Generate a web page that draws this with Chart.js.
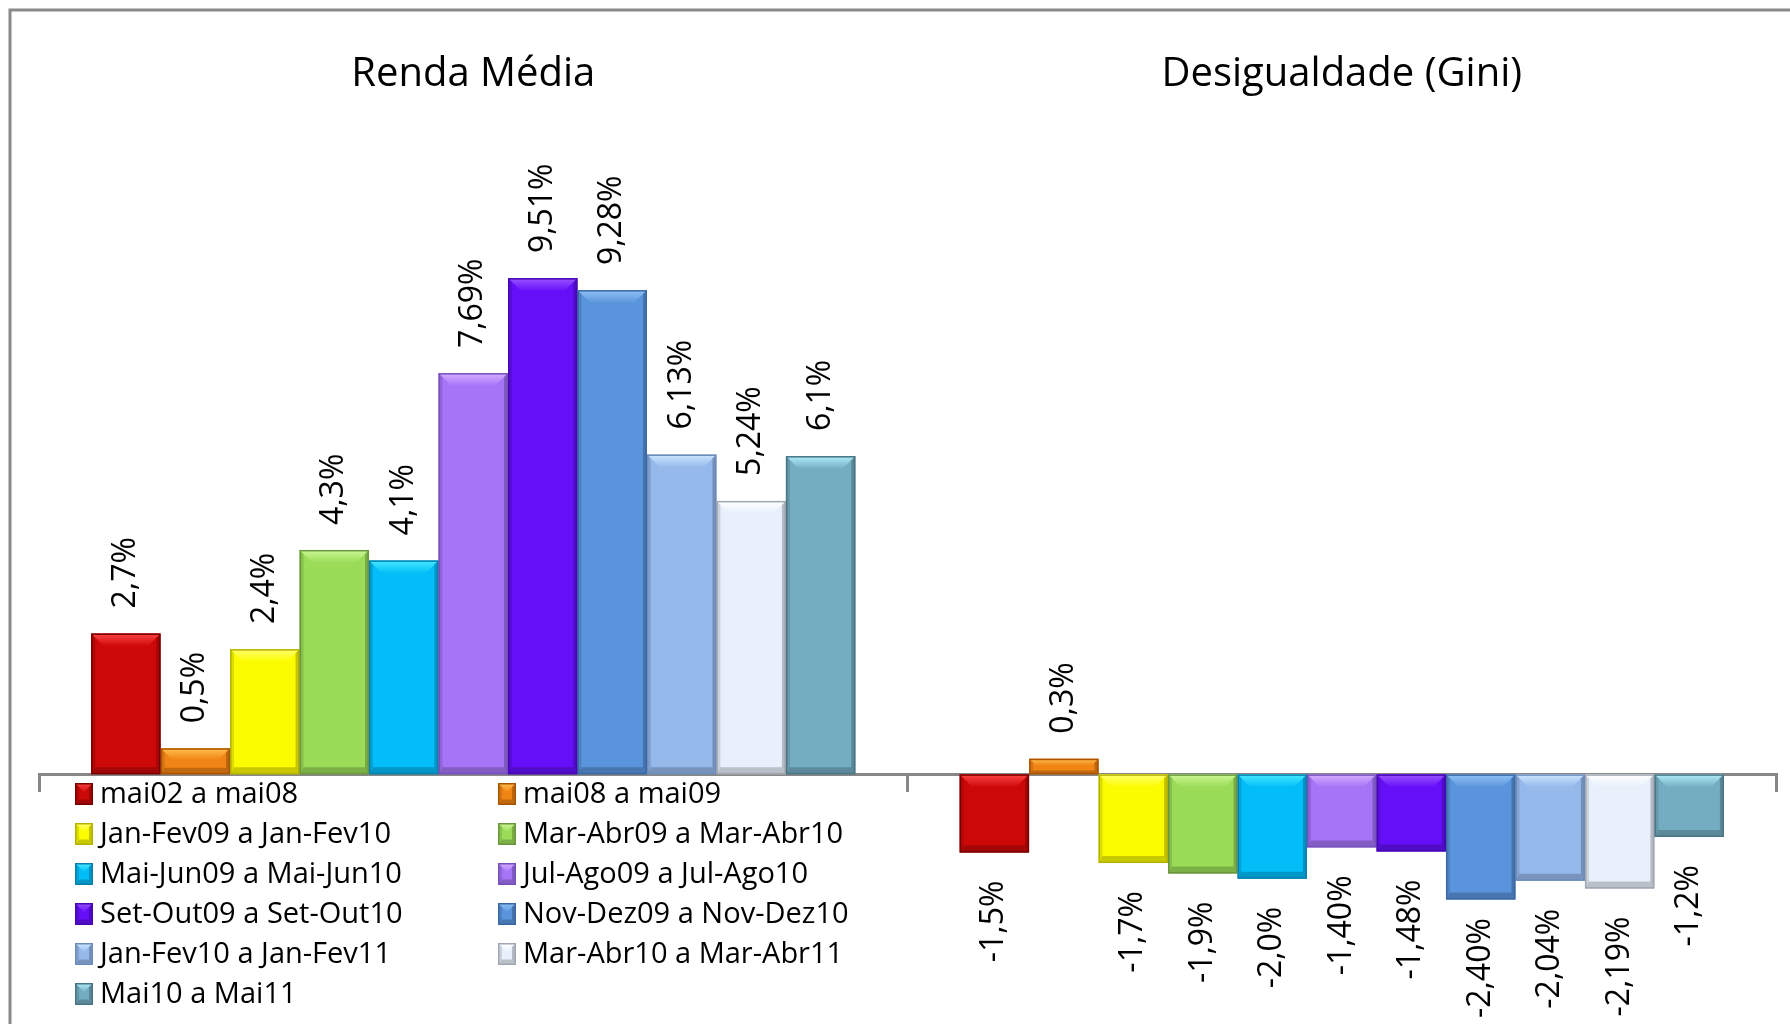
<!DOCTYPE html>
<html lang="pt-BR">
<head>
<meta charset="UTF-8">
<title>Renda Média e Desigualdade (Gini)</title>
<script src="https://cdn.jsdelivr.net/npm/chart.js"></script>
<style>
    body { margin: 0; padding: 0; background: #fff; }
    .container { width: 1790px; height: 1024px; }
</style>
</head>
<body>
<div class="container">
    <canvas id="myChart" width="1790" height="1024"></canvas>
</div>
<script>
const categories = ['Renda Média', 'Desigualdade (Gini)'];

const seriesNames = [
    'mai02 a mai08', 'mai08 a mai09',
    'Jan-Fev09 a Jan-Fev10', 'Mar-Abr09 a Mar-Abr10',
    'Mai-Jun09 a Mai-Jun10', 'Jul-Ago09 a Jul-Ago10',
    'Set-Out09 a Set-Out10', 'Nov-Dez09 a Nov-Dez10',
    'Jan-Fev10 a Jan-Fev11', 'Mar-Abr10 a Mar-Abr11',
    'Mai10 a Mai11'
];

const rendaValues = [2.7, 0.5, 2.4, 4.3, 4.1, 7.69, 9.51, 9.28, 6.13, 5.24, 6.1];
const giniValues = [-1.5, 0.3, -1.7, -1.9, -2.0, -1.40, -1.48, -2.40, -2.04, -2.19, -1.2];
// decimals shown on each data label
const rendaDecimals = [1, 1, 1, 1, 1, 2, 2, 2, 2, 2, 1];
const giniDecimals = [1, 1, 1, 1, 1, 2, 2, 2, 2, 2, 1];

const fillColors = ['#CC0808', '#F08414', '#FCFC00', '#9ADC58', '#02BDF8', '#A674F7',
                    '#650FF8', '#5A94DC', '#96B9EC', '#E8F0FB', '#74ADC1'];
const lightColors = ['#FF4444', '#FFC050', '#FFFF70', '#CDF796', '#48EAFF', '#D6AEFF',
                     '#9A55FF', '#90C4F6', '#CDE6FF', '#FFFFFF', '#B0EDFA'];
const edgeColors = ['#760000', '#A85400', '#B4B200', '#6A963E', '#0A7FAE', '#7650BC',
                    '#4508B4', '#3A68A6', '#6C8CBB', '#A0A7B2', '#4A7484'];

const datasets = seriesNames.map((name, i) => ({
    label: name,
    data: [rendaValues[i], giniValues[i]],
    backgroundColor: fillColors[i],
    borderWidth: 0,
    barPercentage: 1,
    categoryPercentage: 0.88
}));

function fmt(v, d) {
    return v.toFixed(d).replace('.', ',') + '%';
}

const framePlugin = {
    id: 'frame',
    beforeDraw: chart => {
        const ctx = chart.ctx;
        ctx.save();
        ctx.strokeStyle = '#8a8a8a';
        ctx.lineWidth = 3;
        ctx.beginPath();
        ctx.moveTo(10, chart.height);
        ctx.lineTo(10, 10);
        ctx.lineTo(chart.width, 10);
        ctx.stroke();
        ctx.restore();
    }
};

// Excel-like bevel on every bar
function drawBevel(ctx, l, t, w, h, i) {
    const r = l + w, b = t + h;
    const bt = Math.min(13, h / 2.2), bb = Math.min(7, h / 4), s = Math.min(4, h / 4);
    const poly = (pts, col) => {
        ctx.beginPath();
        ctx.moveTo(pts[0][0], pts[0][1]);
        pts.slice(1).forEach(q => ctx.lineTo(q[0], q[1]));
        ctx.closePath();
        ctx.fillStyle = col;
        ctx.fill();
    };
    const g = ctx.createLinearGradient(0, t, 0, t + bt);
    g.addColorStop(0, lightColors[i]);
    g.addColorStop(1, fillColors[i]);
    poly([[l, t], [r, t], [r - bt, t + bt], [l + bt, t + bt]], g);
    poly([[l, b], [r, b], [r - s, b - bb], [l + s, b - bb]], 'rgba(0,0,0,0.2)');
    poly([[l, t], [l + s, t + s], [l + s, b - bb], [l, b]], 'rgba(0,0,0,0.12)');
    poly([[r, t], [r - s, t + s], [r - s, b - bb], [r, b]], 'rgba(0,0,0,0.22)');
    ctx.strokeStyle = edgeColors[i];
    ctx.lineWidth = 1.5;
    ctx.strokeRect(l + 0.75, t + 0.75, w - 1.5, h - 1.5);
}

const bevelPlugin = {
    id: 'bevel',
    afterDatasetsDraw: chart => {
        const ctx = chart.ctx;
        ctx.save();
        chart.data.datasets.forEach((ds, i) => {
            chart.getDatasetMeta(i).data.forEach(bar => {
                const p = bar.getProps(['x', 'y', 'base', 'width'], true);
                const t = Math.min(p.y, p.base), b = Math.max(p.y, p.base);
                drawBevel(ctx, p.x - p.width / 2, t, p.width, b - t, i);
            });
        });
        ctx.restore();
    }
};

const labelPlugin = {
    id: 'valueLabels',
    afterDatasetsDraw: chart => {
        const ctx = chart.ctx;
        ctx.save();
        ctx.font = '32px "Open Sans"';
        ctx.fillStyle = '#000';
        ctx.textBaseline = 'middle';
        chart.data.datasets.forEach((ds, i) => {
            chart.getDatasetMeta(i).data.forEach((bar, j) => {
                const v = ds.data[j];
                const d = j === 0 ? rendaDecimals[i] : giniDecimals[i];
                const txt = fmt(v, d);
                const w = ctx.measureText(txt).width;
                ctx.save();
                if (v >= 0) {
                    ctx.translate(bar.x, bar.y - 25);
                    ctx.rotate(-Math.PI / 2);
                    ctx.textAlign = 'left';
                } else {
                    let yy = bar.y + 28;
                    if (yy + w > chart.height - 6) yy = chart.height - 6 - w;
                    ctx.translate(bar.x, yy);
                    ctx.rotate(-Math.PI / 2);
                    ctx.textAlign = 'right';
                }
                ctx.fillText(txt, 0, 0);
                ctx.restore();
            });
        });
        ctx.restore();
    }
};

const legendPlugin = {
    id: 'sideLegend',
    afterDraw: chart => {
        const ctx = chart.ctx;
        ctx.save();
        chart.data.datasets.forEach((ds, i) => {
            const col = i % 2, row = Math.floor(i / 2);
            const mx = col === 0 ? 75 : 498;
            const base = 803 + row * 40;
            ctx.fillStyle = fillColors[i];
            ctx.fillRect(mx, base - 20, 18, 22);
            drawBevel(ctx, mx, base - 20, 18, 22, i);
            ctx.font = '29px "Open Sans"';
            ctx.textBaseline = 'alphabetic';
            ctx.textAlign = 'left';
            ctx.fillStyle = '#000';
            ctx.fillText(ds.label, col === 0 ? 100 : 523, base);
        });
        ctx.restore();
    }
};

const ctx = document.getElementById('myChart').getContext('2d');
new Chart(ctx, {
    type: 'bar',
    data: { labels: categories, datasets: datasets },
    options: {
        responsive: false,
        animation: false,
        layout: { padding: { left: 39, right: 14, top: 42, bottom: 16 } },
        scales: {
            x: {
                position: { y: 0 },
                offset: true,
                ticks: { display: false },
                grid: {
                    offset: true,
                    drawOnChartArea: false,
                    drawTicks: true,
                    tickLength: 16,
                    color: '#878787',
                    lineWidth: 3
                },
                border: { display: true, color: '#878787', width: 3 }
            },
            titles: {
                type: 'category',
                axis: 'x',
                position: 'top',
                offset: true,
                grid: { display: false, drawTicks: false },
                border: { display: false },
                ticks: {
                    padding: 9,
                    color: '#000',
                    font: { family: 'Open Sans', size: 40 }
                }
            },
            y: {
                display: false,
                min: -4.478,
                max: 12.77
            }
        },
        plugins: {
            legend: { display: false },
            tooltip: { enabled: false }
        }
    },
    plugins: [framePlugin, bevelPlugin, labelPlugin, legendPlugin]
});
</script>
</body>
</html>
